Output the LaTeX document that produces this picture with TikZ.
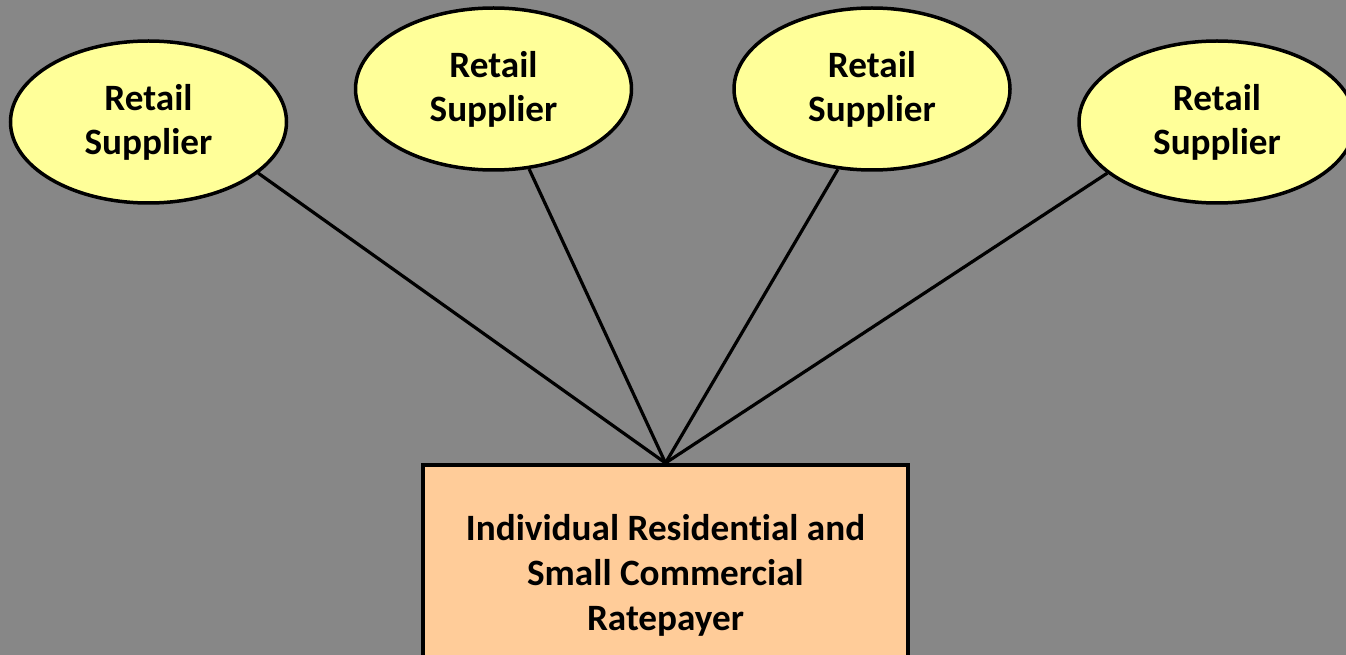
\documentclass[tikz,border=0pt]{standalone}
\usepackage{fontspec}
\setmainfont{Carlito}[Ligatures={NoCommon}]
\usetikzlibrary{shapes.geometric}
\definecolor{bggray}{HTML}{878787}
\definecolor{suppyellow}{HTML}{FFFF99}
\definecolor{payorange}{HTML}{FFCC99}
\begin{document}
\begin{tikzpicture}[x=1pt,y=-1pt,
  supplier/.style={ellipse,draw=black,line width=3.5pt,fill=suppyellow,
    minimum width=276pt,minimum height=162pt,inner sep=0pt,align=center,
    font=\fontsize{37.2}{44}\selectfont\bfseries},
  payer/.style={rectangle,draw=black,line width=3.5pt,fill=payorange,
    minimum width=485pt,minimum height=260pt,inner sep=0pt,align=center},
  payertext/.style={align=center,font=\fontsize{37.2}{45}\selectfont\bfseries},
  link/.style={draw=black,line width=3.2pt}]
\useasboundingbox (0,0) rectangle (1346,655);
\clip (0,0) rectangle (1346,655);
\fill[bggray] (0,0) rectangle (1346,655);
\node[supplier] (s1) at (148.5,122) {Retail\\Supplier};
\node[supplier] (s2) at (493.5,89) {Retail\\Supplier};
\node[supplier] (s3) at (872,89) {Retail\\Supplier};
\node[supplier] (s4) at (1217,122) {Retail\\Supplier};
\node[payer, anchor=north] (p) at (665.5,463) {};
\node[payertext] (pt) at (665.5,575.5) {Individual Residential and\\Small Commercial\\Ratepayer};
\coordinate (hub) at (p.north);
\draw[link] (hub) -- (s1.-25);
\draw[link] (hub) -- (s2.-66);
\draw[link] (hub) -- (s3.-113);
\draw[link] (hub) -- (s4.-155);
\end{tikzpicture}
\end{document}
